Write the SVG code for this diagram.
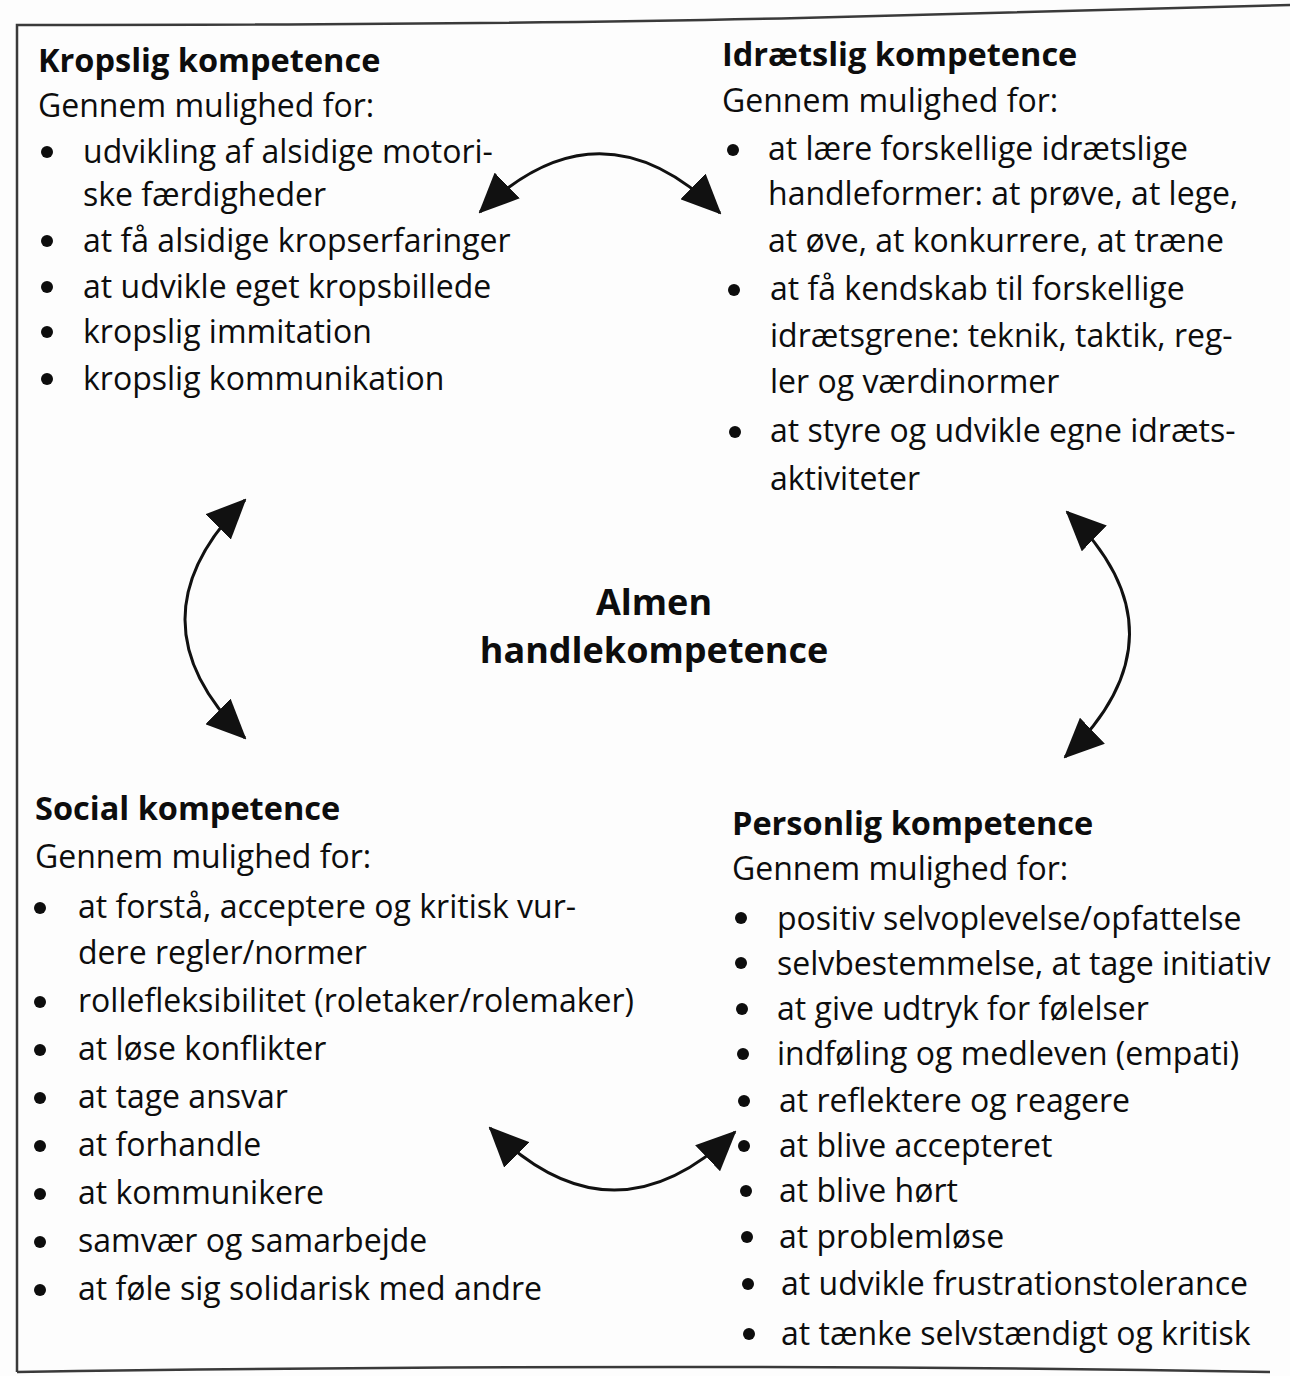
<svg xmlns="http://www.w3.org/2000/svg" width="1290" height="1376" viewBox="0 0 1290 1376">
<defs>
<style>
text{font-family:"Open Sans","Noto Sans","DejaVu Sans",sans-serif;font-size:32px;fill:#0d0d0d}
.h{font-weight:bold;font-size:32.5px}
.c{font-weight:bold;font-size:36px;text-anchor:middle}
circle{fill:#0d0d0d}
.arc{fill:none;stroke:#111;stroke-width:3}
.frame{fill:none;stroke:#3a3a3a;stroke-width:2.5}
</style>
<marker id="ah" viewBox="0 0 40 36" refX="38" refY="18" markerWidth="40" markerHeight="36" markerUnits="userSpaceOnUse" orient="auto-start-reverse">
<path d="M0,0 L40,18 L0,36 Z" fill="#111"/>
</marker>
</defs>
<rect width="1290" height="1376" fill="#fdfdfd"/>
<g id="frame">
<path class="frame" d="M17,1372 L17,25 Q500,25 800,18 T1290,5"/>
<path class="frame" d="M17,1372 Q700,1362 1270,1372"/>
</g>
<g id="kropslig">
<text class="h" x="38" y="72">Kropslig kompetence</text>
<text x="38" y="117">Gennem mulighed for:</text>
<circle cx="47" cy="152" r="6"/><text x="83" y="163">udvikling af alsidige motori-</text>
<text x="83" y="206">ske færdigheder</text>
<circle cx="47" cy="241" r="6"/><text x="83" y="252">at få alsidige kropserfaringer</text>
<circle cx="47" cy="287" r="6"/><text x="83" y="298">at udvikle eget kropsbillede</text>
<circle cx="47" cy="332" r="6"/><text x="83" y="343">kropslig immitation</text>
<circle cx="47" cy="379" r="6"/><text x="83" y="390">kropslig kommunikation</text>
</g>
<g id="idraetslig">
<text class="h" x="722" y="66">Idrætslig kompetence</text>
<text x="722" y="112">Gennem mulighed for:</text>
<circle cx="733" cy="150" r="6"/><text x="768" y="160">at lære forskellige idrætslige</text>
<text x="768" y="205">handleformer: at prøve, at lege,</text>
<text x="768" y="252">at øve, at konkurrere, at træne</text>
<circle cx="734" cy="290" r="6"/><text x="770" y="300">at få kendskab til forskellige</text>
<text x="770" y="347">idrætsgrene: teknik, taktik, reg-</text>
<text x="770" y="393">ler og værdinormer</text>
<circle cx="735" cy="432" r="6"/><text x="770" y="442">at styre og udvikle egne idræts-</text>
<text x="770" y="490">aktiviteter</text>
</g>
<g id="almen">
<text class="c" x="654" y="615">Almen</text>
<text class="c" x="654" y="663">handlekompetence</text>
</g>
<g id="social">
<text class="h" x="35" y="820">Social kompetence</text>
<text x="35" y="868">Gennem mulighed for:</text>
<circle cx="40" cy="908" r="6"/><text x="78" y="918">at forstå, acceptere og kritisk vur-</text>
<text x="78" y="964">dere regler/normer</text>
<circle cx="40" cy="1002" r="6"/><text x="78" y="1012">rollefleksibilitet (roletaker/rolemaker)</text>
<circle cx="40" cy="1050" r="6"/><text x="78" y="1060">at løse konflikter</text>
<circle cx="40" cy="1098" r="6"/><text x="78" y="1108">at tage ansvar</text>
<circle cx="40" cy="1146" r="6"/><text x="78" y="1156">at forhandle</text>
<circle cx="40" cy="1194" r="6"/><text x="78" y="1204">at kommunikere</text>
<circle cx="40" cy="1242" r="6"/><text x="78" y="1252">samvær og samarbejde</text>
<circle cx="40" cy="1290" r="6"/><text x="78" y="1300">at føle sig solidarisk med andre</text>
</g>
<g id="personlig">
<text class="h" x="732" y="835">Personlig kompetence</text>
<text x="732" y="880">Gennem mulighed for:</text>
<circle cx="741" cy="918" r="6"/><text x="777" y="930">positiv selvoplevelse/opfattelse</text>
<circle cx="741" cy="963" r="6"/><text x="777" y="975">selvbestemmelse, at tage initiativ</text>
<circle cx="742" cy="1009" r="6"/><text x="777" y="1020">at give udtryk for følelser</text>
<circle cx="743" cy="1054" r="6"/><text x="777" y="1065">indføling og medleven (empati)</text>
<circle cx="744" cy="1101" r="6"/><text x="779" y="1112">at reflektere og reagere</text>
<circle cx="744" cy="1146" r="6"/><text x="779" y="1157">at blive accepteret</text>
<circle cx="746" cy="1191" r="6"/><text x="779" y="1202">at blive hørt</text>
<circle cx="747" cy="1237" r="6"/><text x="779" y="1248">at problemløse</text>
<circle cx="748" cy="1284" r="6"/><text x="781" y="1295">at udvikle frustrationstolerance</text>
<circle cx="749" cy="1334" r="6"/><text x="781" y="1345">at tænke selvstændigt og kritisk</text>
</g>
<g id="connectors">
<path class="arc" d="M480,212 Q600,95 720,213" marker-start="url(#ah)" marker-end="url(#ah)"/>
<path class="arc" d="M245,500 Q125,620 245,738" marker-start="url(#ah)" marker-end="url(#ah)"/>
<path class="arc" d="M1067,512 Q1193,634 1065,757" marker-start="url(#ah)" marker-end="url(#ah)"/>
<path class="arc" d="M490,1128 Q612,1250 735,1132" marker-start="url(#ah)" marker-end="url(#ah)"/>
</g>
</svg>
